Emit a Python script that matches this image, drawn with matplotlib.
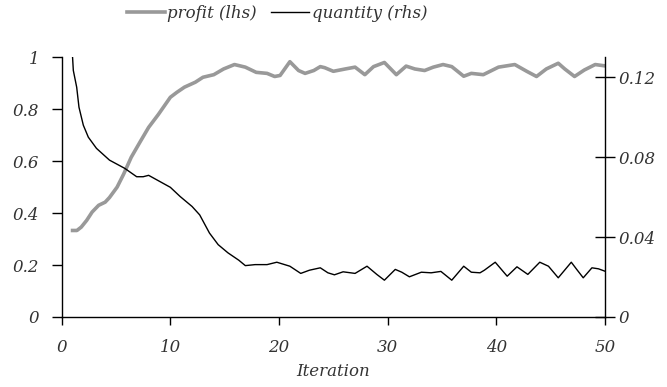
import numpy as np
import matplotlib.pyplot as plt
from matplotlib.ticker import FuncFormatter

# profit (left axis)
profit_iter = [1, 1.4, 1.8, 2.3, 2.8, 3.4, 4.0, 4.4, 5.1, 5.7, 6.4, 7.2, 8.0, 8.9, 10.0,
               10.6, 11.3, 12.3, 13.0, 14.0, 14.9, 15.9, 16.9, 17.9, 18.9, 19.6, 20.1,
               21.0, 21.8, 22.4, 23.2, 23.8, 24.2, 25.0, 26.1, 27.0, 27.9, 28.7, 29.7,
               30.8, 31.7, 32.5, 33.4, 34.2, 35.1, 35.9, 37.0, 37.7, 38.8, 40.2, 41.7,
               42.8, 43.7, 44.6, 45.7, 46.3, 47.2, 48.1, 49.1, 49.8, 50]
profit = [0.333, 0.333, 0.346, 0.372, 0.404, 0.43, 0.442, 0.46, 0.50, 0.55, 0.615, 0.673,
          0.73, 0.78, 0.846, 0.865, 0.885, 0.904, 0.923, 0.933, 0.955, 0.972, 0.962,
          0.942, 0.938, 0.926, 0.93, 0.983, 0.949, 0.938, 0.949, 0.964, 0.96, 0.946,
          0.955, 0.962, 0.933, 0.964, 0.98, 0.933, 0.966, 0.955, 0.949, 0.962, 0.972,
          0.964, 0.927, 0.938, 0.933, 0.962, 0.972, 0.946, 0.926, 0.955, 0.977, 0.955,
          0.926, 0.951, 0.972, 0.968, 0.967]

# quantity (right axis)
qty_iter = [1.0, 1.07, 1.38, 1.59, 1.99, 2.45, 3.2, 4.4, 5.8, 6.9, 7.5, 8.0, 8.9, 10.0,
            10.9, 12.0, 12.7, 13.6, 14.4, 15.3, 16.3, 16.9, 17.8, 18.9, 19.8, 21.0,
            22.0, 22.8, 23.8, 24.5, 25.1, 25.9, 27.0, 28.1, 29.0, 29.7, 30.7, 31.3,
            32.0, 33.1, 34.0, 34.9, 35.9, 37.0, 37.7, 38.5, 38.9, 39.9, 41.0, 41.9,
            42.9, 44.0, 44.8, 45.7, 46.9, 47.4, 48.0, 48.8, 49.4, 50]
quantity = [0.13, 0.1234, 0.115, 0.105, 0.096, 0.090, 0.0844, 0.0785, 0.0744, 0.0702,
            0.0702, 0.0709, 0.0682, 0.0649, 0.0603, 0.0553, 0.0511, 0.042, 0.0362,
            0.0321, 0.0284, 0.0257, 0.0262, 0.0262, 0.0274, 0.0254, 0.0218, 0.0234,
            0.0246, 0.0221, 0.0211, 0.0226, 0.0218, 0.0254, 0.0213, 0.0184, 0.0238,
            0.0224, 0.0201, 0.0224, 0.0221, 0.0228, 0.0184, 0.0254, 0.0224, 0.0221,
            0.0234, 0.0274, 0.0204, 0.0251, 0.0213, 0.0274, 0.0254, 0.0196, 0.0274,
            0.0238, 0.0196, 0.0246, 0.0241, 0.0229]

left_ticks = [0, 0.2, 0.4, 0.6, 0.8, 1]
right_ticks = [0, 0.04, 0.08, 0.12]
x_ticks = [0, 10, 20, 30, 40, 50]

plt.rcParams['font.family'] = ['DejaVu Serif']
plt.rcParams['font.style'] = 'italic'
plt.rcParams['font.size'] = 12

fig = plt.figure(figsize=(6.67, 3.87), dpi=100)
ax = fig.add_axes([0.0925, 0.181, 0.907 - 0.0925, 0.852 - 0.181])
ax2 = ax.twinx()

l1, = ax.plot(profit_iter, profit, color="#999999", lw=2.6, solid_joinstyle="round",
              label="profit (lhs)")
l2, = ax2.plot(qty_iter, quantity, color="black", lw=1.0, solid_joinstyle="round",
               label="quantity (rhs)")

ax.set_xlim(0, 50)
ax.set_ylim(0, 1)
ax2.set_ylim(0, 0.13)
ax.set_xticks(x_ticks)
ax.set_yticks(left_ticks)
ax2.set_yticks(right_ticks)
fmt = FuncFormatter(lambda v, p: f"{v:g}")
ax.yaxis.set_major_formatter(fmt)
ax2.yaxis.set_major_formatter(fmt)

for a in (ax, ax2):
    a.spines['top'].set_visible(False)
    for s in a.spines.values():
        s.set_linewidth(1.0)
ax.spines['right'].set_visible(False)
ax2.spines['left'].set_visible(False)
ax2.spines['bottom'].set_visible(False)

ax.tick_params(axis='y', direction='out', length=7, width=1, pad=9, colors='#333333')
ax.tick_params(axis='x', direction='out', length=6, width=1, pad=10, colors='#333333')
ax2.tick_params(axis='y', direction='inout', length=14, width=1, pad=3, colors='#333333')
ax.tick_params(axis='both', colors='black', labelcolor='#333333')
ax2.tick_params(axis='y', colors='black', labelcolor='#333333')

ax.set_xlabel("Iteration", labelpad=5, color='#333333')

fig.legend(handles=[l1, l2], loc='center', bbox_to_anchor=(277 / 667, 1 - 13 / 387),
           ncol=2, frameon=False, handlelength=2.3, handletextpad=0.15,
           columnspacing=0.85, fontsize=12, labelcolor='#333333')

fig.savefig("out.png", dpi=100)
